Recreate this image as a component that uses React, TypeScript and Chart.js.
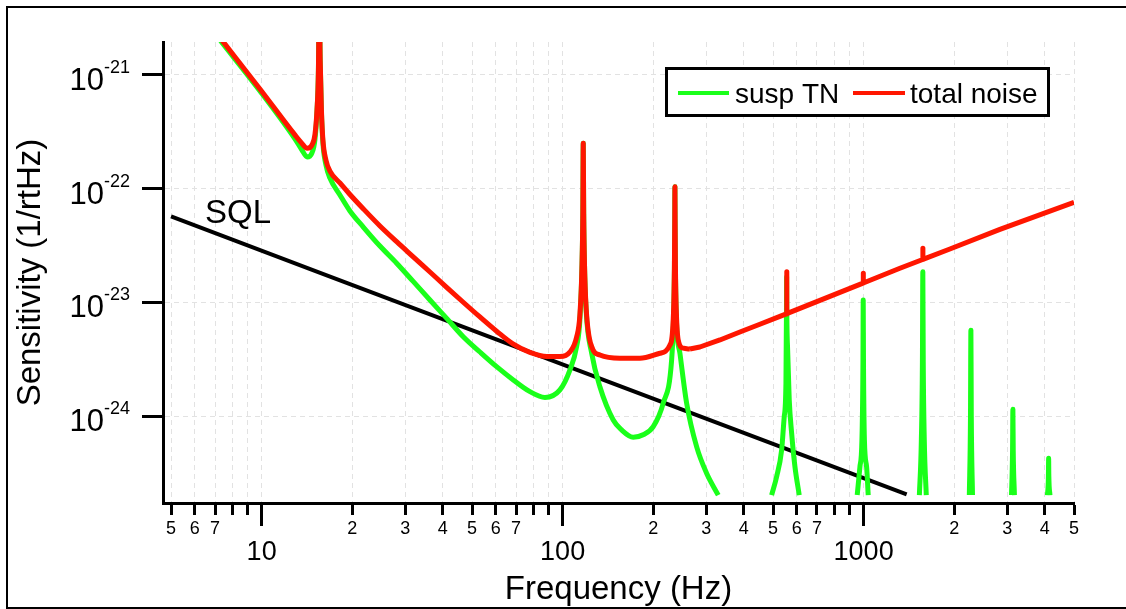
import React, { useEffect, useRef } from "react";
import { Chart, registerables } from "chart.js";

Chart.register(...registerables);

const FONT = "'Liberation Sans', Arial, Helvetica, sans-serif";
const RED = "rgb(255, 22, 0)";
const GREEN = "rgb(26, 255, 26)";
const GRID = "#e2e2e2";

// ---- axis ticks ----
const X_TICKS = [5, 6, 7, 8, 9, 10, 20, 30, 40, 50, 60, 70, 80, 90, 100, 200, 300, 400, 500, 600, 700, 800, 900, 1000, 2000, 3000, 4000, 5000];
const X_TICK_LABELS = ["5", "6", "7", "", "", "10", "2", "3", "4", "5", "6", "7", "", "", "100", "2", "3", "4", "5", "6", "7", "", "", "1000", "2", "3", "4", "5"];
const X_MAJOR = [10, 100, 1000];
const Y_TICKS = [1e-24, 1e-23, 1e-22, 1e-21];

// ---- total noise (red), up to ~265 Hz ----
const TOTAL_F = [
  7.3, 9.87, 12.9, 13.61, 14.17, 14.69, 15.03, 15.27, 15.44, 15.54,
  15.65, 15.8, 15.98, 16.35, 16.86, 18.2, 19.65, 21.71, 24.72, 28.15,
  31.82, 36.24, 41.27, 46.65, 53.12, 60.48, 68.39, 77.87, 88.7, 97.96,
  105.7, 111.3, 114.1, 116.0, 116.7, 117.1, 117.5, 118.2, 119.7, 124.9,
  133.0, 155.0, 180.6, 210.6, 227.3, 233.5, 235.2, 235.8, 236.1, 236.4,
  237.0, 238.8, 242.1, 251.6, 264.8,
];
const TOTAL_V = [
  2.1e-21, 7.53e-22, 2.97e-22, 2.5e-22, 2.27e-22, 2.42e-22, 2.97e-22, 4.92e-22, 1.106e-21, 5e-21,
  1.355e-21, 4.92e-22, 2.68e-22, 1.79e-22, 1.43e-22, 1.122e-22, 8.89e-23, 6.7e-23, 4.7e-23, 3.4e-23,
  2.53e-23, 1.85e-23, 1.35e-23, 1.008e-23, 7.44e-24, 5.55e-24, 4.31e-24, 3.63e-24, 3.34e-24, 3.34e-24,
  3.66e-24, 4.96e-24, 7.75e-24, 2.2e-23, 6e-23, 2.51e-22, 6e-23, 2.2e-23, 9e-24, 4.08e-24,
  3.44e-24, 3.22e-24, 3.22e-24, 3.57e-24, 4.22e-24, 8e-24, 2.1e-23, 5.5e-23, 1.04e-22, 5.5e-23,
  2.1e-23, 8e-24, 4.67e-24, 3.95e-24, 3.89e-24,
];
// ---- total noise (red), above ~265 Hz, with narrow violin-mode bumps ----
const TOTAL_HF_F = [
  264.8, 285.8, 333.1, 388.2, 450, 527.1, 553.8, 555, 556.2, 715.8,
  995.5, 997, 998.5, 1320, 1571.5, 1573, 1574.5, 1935, 2837, 5000,
];
const TOTAL_HF_V = [
  3.89e-24, 4.05e-24, 4.67e-24, 5.49e-24, 6.39e-24, 7.52e-24, 7.92e-24, 1.86e-23, 7.96e-24, 1.04e-23,
  1.477e-23, 1.8e-23, 1.482e-23, 1.995e-23, 2.385e-23, 2.99e-23, 2.389e-23, 2.95e-23, 4.38e-23, 7.58e-23,
];

// ---- suspension thermal noise (green); null = gap ----
const SUSP_F = [
  7.3, 9.87, 12.9, 13.61, 14.17, 14.69, 15.03, 15.27, 15.44, 15.54,
  15.65, 15.8, 15.98, 16.35, 16.86, 18.2, 19.65, 21.76, 24.72, 28.09,
  31.82, 36.24, 41.27, 46.75, 53.12, 60.35, 68.55, 77.87, 87.35, 97.96,
  105.7, 111.3, 114.1, 116.0, 116.7, 117.1, 117.5, 118.2, 119.7, 124.9,
  133.0, 147.3, 157.0, 171.6, 186.0, 200.0, 215.9, 230.2, 233.5, 235.2,
  235.8, 236.1, 236.4, 237.0, 238.8, 245.3, 258.2, 278.7, 300.8, 328.8,
  400,
  494.7, 514.0, 534.1, 544.8, 552.0, 554.3, 554.9, 555.5, 559.2, 566.1, 576.6, 591.3, 611.1, 800,
  952.2, 972.1, 987.1, 995, 997, 999, 1006.1, 1023.2, 1035.8, 1300,
  1532, 1555, 1568, 1573, 1578, 1591, 1615, 2000,
  2245, 2265, 2272, 2279, 2300, 2700,
  3100, 3125, 3133, 3141, 3170, 3600,
  4080, 4112, 4118, 4124, 4160,
];
const SUSP_V = [
  2.0e-21, 7.23e-22, 2.74e-22, 2.19e-22, 1.9e-22, 2.06e-22, 2.68e-22, 4.73e-22, 1.106e-21, 5e-21,
  1.355e-21, 4.73e-22, 2.52e-22, 1.62e-22, 1.24e-22, 8.8e-23, 6.37e-23, 4.6e-23, 3.13e-23, 2.21e-23,
  1.537e-23, 1.05e-23, 7.19e-24, 4.99e-24, 3.66e-24, 2.72e-24, 2.08e-24, 1.64e-24, 1.46e-24, 1.7e-24,
  2.54e-24, 4.08e-24, 7.0e-24, 2.15e-23, 6e-23, 2.51e-22, 6e-23, 2.15e-23, 8.5e-24, 3.57e-24,
  1.81e-24, 9.24e-25, 7.55e-25, 6.51e-25, 6.89e-25, 8.07e-25, 1.3e-24, 3.11e-24, 7e-24, 2.0e-23,
  5.5e-23, 1.04e-22, 5.5e-23, 2.0e-23, 7e-24, 3.57e-24, 1.3e-24, 5.38e-25, 3.14e-25, 2.02e-25,
  null,
  2.02e-25, 2.93e-25, 5.03e-25, 9.88e-25, 1.94e-24, 9e-24, 1.68e-23, 9e-24, 3.81e-24, 1.39e-24, 7.06e-25, 3.59e-25, 2.02e-25, null,
  2.02e-25, 3.57e-25, 6.16e-25, 3e-24, 1.05e-23, 3e-24, 6.16e-25, 3.57e-25, 2.02e-25, null,
  2.02e-25, 6e-25, 3e-24, 1.86e-23, 3e-24, 6e-25, 2.02e-25, null,
  2.02e-25, 1e-24, 5.7e-24, 1e-24, 2.02e-25, null,
  2.02e-25, 5e-25, 1.15e-24, 5e-25, 2.02e-25, null,
  2.02e-25, 3e-25, 4.26e-25, 3e-25, 2.02e-25,
];

// ---- SQL (black) ----
const SQL_F = [5, 1390];
const SQL_V = [5.7e-23, 2.05e-25];

const toXY = (fs: number[], vs: (number | null)[]) => fs.map((f, i) => ({ x: f, y: vs[i] }));

const alignPx = (p: number, w: number) => Math.round(p - w / 2) + w / 2;

const overlayPlugin = {
  id: "overlay",
  afterDraw(chart: any) {
    const ctx = chart.ctx as CanvasRenderingContext2D;
    const xs = chart.scales.x;
    const ys = chart.scales.y;
    const area = chart.chartArea;
    ctx.save();

    // longer tick marks at decades on the x axis
    ctx.strokeStyle = "#000";
    ctx.lineWidth = 3;
    ctx.setLineDash([]);
    for (const v of X_MAJOR) {
      const px = alignPx(xs.getPixelForValue(v), 3);
      ctx.beginPath();
      ctx.moveTo(px, area.bottom);
      ctx.lineTo(px, area.bottom + 23);
      ctx.stroke();
    }

    // y tick labels: 10^n
    ctx.fillStyle = "#000";
    for (const v of Y_TICKS) {
      const py = ys.getPixelForValue(v);
      const exp = Math.round(Math.log10(v));
      ctx.font = `31px ${FONT}`;
      ctx.textAlign = "right";
      ctx.textBaseline = "alphabetic";
      ctx.fillText("10", 104, py + 15);
      ctx.font = `18px ${FONT}`;
      ctx.textAlign = "left";
      ctx.fillText(String(exp), 104, py - 2);
    }

    // SQL annotation
    ctx.font = `33px ${FONT}`;
    ctx.textAlign = "left";
    ctx.fillText("SQL", 205, 223);

    // legend
    ctx.fillStyle = "#fff";
    ctx.fillRect(666.5, 68.5, 382, 47);
    ctx.lineWidth = 3;
    ctx.strokeStyle = "#000";
    ctx.strokeRect(666.5, 68.5, 382, 47);
    ctx.lineWidth = 4;
    ctx.strokeStyle = GREEN;
    ctx.beginPath();
    ctx.moveTo(678, 93);
    ctx.lineTo(729, 93);
    ctx.stroke();
    ctx.strokeStyle = RED;
    ctx.beginPath();
    ctx.moveTo(853, 93);
    ctx.lineTo(905, 93);
    ctx.stroke();
    ctx.fillStyle = "#000";
    ctx.font = `28px ${FONT}`;
    ctx.fillText("susp TN", 735, 103);
    ctx.fillText("total noise", 910, 103);

    // outer frame
    ctx.lineWidth = 2;
    ctx.strokeStyle = "#000";
    ctx.strokeRect(7, 7, 1140, 601);
    ctx.restore();
  },
};

export default function App() {
  const ref = useRef<HTMLCanvasElement>(null);
  useEffect(() => {
    if (!ref.current) return;
    Chart.defaults.font.family = FONT;
    Chart.defaults.color = "#000";
    const lineCommon = {
      pointRadius: 0,
      pointHoverRadius: 0,
      cubicInterpolationMode: "monotone" as const,
      spanGaps: false,
      clip: 0,
      fill: false,
      borderJoinStyle: "round" as const,
    };
    const chart = new Chart(ref.current, {
      type: "line",
      data: {
        datasets: [
          { ...lineCommon, label: "total noise", data: toXY(TOTAL_F, TOTAL_V), borderColor: RED, borderWidth: 5, order: 0 },
          {
            ...lineCommon,
            label: "total noise (high f)",
            data: toXY(TOTAL_HF_F, TOTAL_HF_V),
            borderColor: RED,
            borderWidth: 5,
            cubicInterpolationMode: "default",
            tension: 0,
            order: 0,
          },
          { ...lineCommon, label: "susp TN", data: toXY(SUSP_F, SUSP_V), borderColor: GREEN, borderWidth: 5, order: 1 },
          { ...lineCommon, label: "SQL", data: toXY(SQL_F, SQL_V), borderColor: "#000", borderWidth: 4, order: 2 },
        ],
      },
      options: {
        responsive: false,
        maintainAspectRatio: false,
        devicePixelRatio: 1,
        animation: false,
        events: [],
        layout: { padding: { top: 42, right: 52, bottom: 0, left: 0 } },
        plugins: { legend: { display: false }, tooltip: { enabled: false }, title: { display: false } },
        scales: {
          x: {
            type: "logarithmic",
            position: "bottom",
            min: 4.702,
            max: 5000,
            afterBuildTicks: (s: any) => {
              s.ticks = X_TICKS.map((v) => ({ value: v }));
            },
            afterFit: (s: any) => {
              s.height = 106;
            },
            ticks: {
              autoSkip: false,
              maxRotation: 0,
              minRotation: 0,
              padding: 3,
              color: "#000",
              font: (c: any) =>
                c.tick && X_MAJOR.includes(c.tick.value)
                  ? { family: FONT, size: 27, lineHeight: 0.86 }
                  : { family: FONT, size: 18, lineHeight: 1.2 },
              callback: (_v: any, i: number) => {
                const lab = X_TICK_LABELS[i];
                return X_MAJOR.includes(X_TICKS[i]) ? ["", lab] : lab;
              },
            },
            grid: { color: GRID, lineWidth: 1, drawTicks: true, tickLength: 12, tickWidth: 3, tickColor: "#000" },
            border: { display: true, color: "#000", width: 3, dash: [5, 4] },
            title: {
              display: true,
              text: "Frequency (Hz)",
              color: "#000",
              font: { family: FONT, size: 33, lineHeight: 1 },
              padding: { top: 0, bottom: 3 },
            },
          },
          y: {
            type: "logarithmic",
            position: "left",
            min: 1.72e-25,
            max: 1.95e-21,
            afterBuildTicks: (s: any) => {
              s.ticks = Y_TICKS.map((v) => ({ value: v }));
            },
            afterFit: (s: any) => {
              s.width = 163;
            },
            ticks: { callback: () => "", padding: 0 },
            grid: { color: GRID, lineWidth: 1, drawTicks: true, tickLength: 21, tickWidth: 3, tickColor: "#000" },
            border: { display: true, color: "#000", width: 3, dash: [5, 4] },
            title: {
              display: true,
              text: "Sensitivity (1/rtHz)",
              color: "#000",
              font: { family: FONT, size: 33, lineHeight: 1 },
              padding: { top: 14, bottom: 0 },
            },
          },
        },
      } as any,
      plugins: [overlayPlugin],
    });
    return () => chart.destroy();
  }, []);
  return (
    <div style={{ position: "fixed", left: 0, top: 0, width: 1126, height: 609, background: "#fff", overflow: "hidden" }}>
      <canvas ref={ref} width={1126} height={609} style={{ display: "block", width: 1126, height: 609 }} />
    </div>
  );
}
